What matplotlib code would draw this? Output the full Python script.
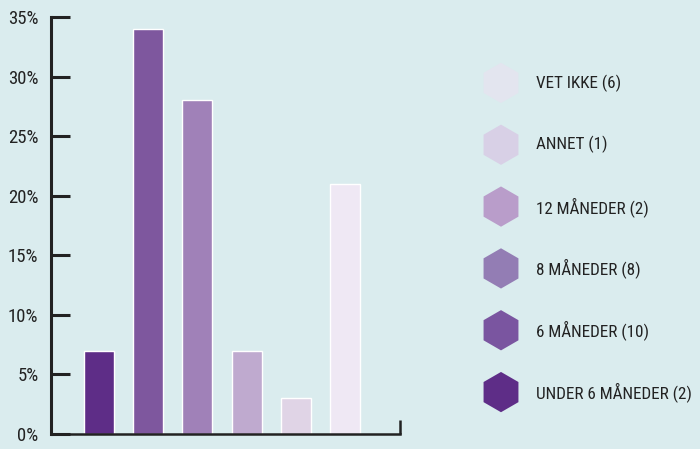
import matplotlib
matplotlib.use("Agg")
import matplotlib.pyplot as plt

# share of answers per category, in %
categories = ["UNDER 6 MÅNEDER", "6 MÅNEDER", "8 MÅNEDER", "12 MÅNEDER", "ANNET", "VET IKKE"]
counts = [2, 10, 8, 2, 1, 6]
percent = [7, 34, 28, 7, 3, 21]
colors = ["#5e2d87", "#7e579e", "#a081b8", "#bfaacf", "#e0d4e6", "#efe8f4"]
legend_colors = ["#5e2d87", "#7a55a0", "#937db4", "#b99dca", "#d8d0e6", "#e3e5ef"]
yticks = [0, 5, 10, 15, 20, 25, 30, 35]

bg = "#daecee"
ink = "#222222"
plt.rcParams["font.family"] = ["Roboto Condensed", "Roboto", "DejaVu Sans"]

fig = plt.figure(figsize=(7, 4.49), dpi=100, facecolor=bg)

ax = fig.add_axes([51 / 700, 1 - 434 / 449, 349 / 700, 417 / 449])
ax.set_facecolor(bg)
x = list(range(len(percent)))
ax.bar(x, percent, width=0.61, color=colors, edgecolor="white", linewidth=1, zorder=2)

ax.set_ylim(0, 35)
ax.set_xlim(-0.976, 6.117)
ax.set_yticks(yticks)
ax.set_yticklabels([f"{t}%" for t in yticks], fontsize=13.5, color=ink)
ax.tick_params(axis="y", direction="in", length=14, width=2.2, color=ink, pad=9)
ax.set_xticks([6.117])
ax.set_xticklabels([""])
ax.tick_params(axis="x", direction="in", length=10, width=1.8, color=ink)

for s in ["top", "right"]:
    ax.spines[s].set_visible(False)
ax.spines["left"].set_color(ink)
ax.spines["left"].set_linewidth(2.2)
ax.spines["bottom"].set_color(ink)
ax.spines["bottom"].set_linewidth(1.8)

# legend: hexagons + labels, top row is the last category
leg = fig.add_axes([480 / 700, 1 - 423 / 449, 220 / 700, 371 / 449])
leg.set_axis_off()
leg.set_xlim(0, 220)
leg.set_ylim(5.5, -0.5)
rows = list(range(len(categories)))
order = list(reversed(range(len(categories))))
leg.scatter([21] * len(rows), rows, s=29 ** 2, marker="h",
            c=[legend_colors[i] for i in order], linewidths=0, clip_on=False)
for r, i in zip(rows, order):
    leg.text(56, r, f"{categories[i]} ({counts[i]})", fontsize=12.3, color=ink,
             va="center", ha="left")

fig.savefig("out.png", dpi=100, facecolor=bg)
